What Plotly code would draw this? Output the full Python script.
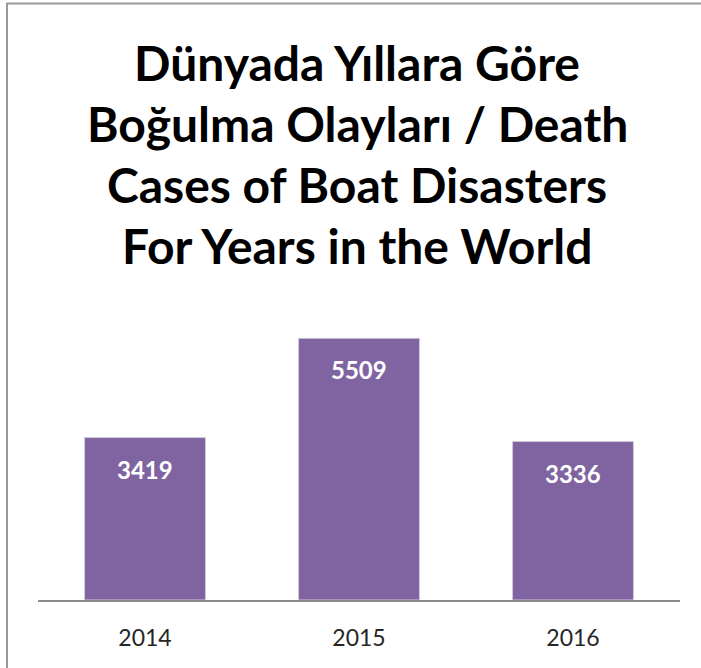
import plotly.graph_objects as go

years = ["2014", "2015", "2016"]
deaths = [3419, 5509, 3336]
title_lines = ["Dünyada Yıllara Göre", "Boğulma Olayları / Death",
               "Cases of Boat Disasters", "For Years in the World"]

W, H = 701, 668
L, R, T, B = 38, 21, 315, 68
ph = H - T - B

def py(pix):
    return (H - B - pix) / ph

fig = go.Figure(go.Bar(
    x=years, y=deaths,
    marker_color="#8064A2",
    marker_line_color="#cfc7d8", marker_line_width=1,
))

anns = []
for i, line in enumerate(title_lines):
    anns.append(dict(text=f"<b>{line}</b>", xref="paper", yref="paper",
                     x=0.4975, y=py(63 + i * 61), xanchor="center", yanchor="middle",
                     showarrow=False, font=dict(family="Lato", size=48, color="#000000")))
# category axis: annotation x given as the category index
for idx, v in enumerate(deaths):
    anns.append(dict(text=f"<b>{v}</b>", x=idx, y=v, xref="x", yref="y",
                     yanchor="top", xanchor="center", yshift=-15, showarrow=False,
                     font=dict(family="Lato", size=24, color="#ffffff")))

fig.update_layout(
    width=W, height=H,
    margin=dict(l=L, r=R, t=T, b=B, pad=0),
    paper_bgcolor="#ffffff", plot_bgcolor="#ffffff",
    showlegend=False,
    bargap=0.435,
    annotations=anns,
    xaxis=dict(type="category", categoryorder="array", categoryarray=years,
               range=[-0.5, 2.5], autorange=False, showline=True, linecolor="#8c8c8c",
               linewidth=1.5, showgrid=False, ticks="outside", ticklen=17,
               tickcolor="rgba(0,0,0,0)",
               tickfont=dict(family="Lato", size=23, color="#262626"), fixedrange=True),
    yaxis=dict(range=[0, 6000], autorange=False, visible=False, showgrid=False,
               fixedrange=True),
    shapes=[dict(type="rect", xref="paper", yref="paper",
                 x0=(7 - L) / (W - L - R), x1=1.3, y0=-0.6, y1=py(3.5),
                 line=dict(color="#9a9a9a", width=2), layer="above")],
)

fig.write_html("out.html", post_script="document.body.style.margin='0';",
               config={"displayModeBar": False})
